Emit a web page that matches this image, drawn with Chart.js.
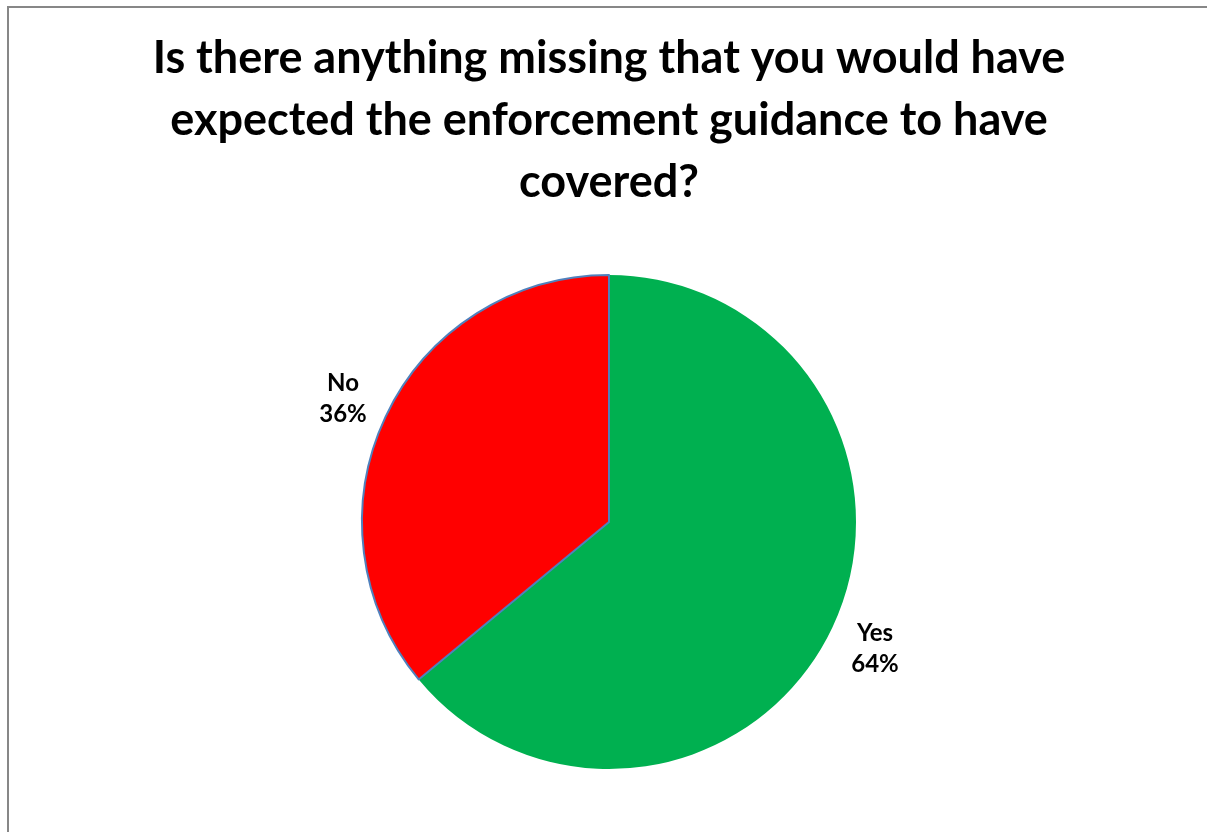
<!DOCTYPE html>
<html>
<head>
<meta charset="utf-8">
<script src="https://cdn.jsdelivr.net/npm/chart.js@4.4.1/dist/chart.umd.min.js"></script>
<style>
  html, body { margin: 0; padding: 0; background: #ffffff; }
  #wrap { width: 1207px; height: 832px; position: relative; }
</style>
</head>
<body>
<div id="wrap"><canvas id="pie"></canvas></div>
<script>
// Survey answers
const categories = ['Yes', 'No'];
const shares = [64, 36];
const sliceColors = ['#00b050', '#ff0000'];
const titleLines = [
  'Is there anything missing that you would have',
  'expected the enforcement guidance to have',
  'covered?'
];

const FONT = 'Lato, "Open Sans", sans-serif';

// Outer frame and the three-line heading
const framePlugin = {
  id: 'frame',
  beforeDraw(chart) {
    const ctx = chart.ctx;
    ctx.save();
    ctx.fillStyle = '#ffffff';
    ctx.fillRect(0, 0, chart.width, chart.height);
    ctx.strokeStyle = '#878787';
    ctx.lineWidth = 2;
    ctx.strokeRect(8, 7, chart.width + 20, chart.height + 20);

    ctx.font = 'bold 45px ' + FONT;
    ctx.fillStyle = '#000000';
    ctx.textAlign = 'center';
    ctx.textBaseline = 'middle';
    titleLines.forEach((line, i) => {
      ctx.fillText(line, 609, 58 + i * 62);
    });
    ctx.restore();
  }
};

// Category name and percentage outside each slice
const outsideLabels = {
  id: 'outsideLabels',
  afterDatasetsDraw(chart) {
    const ctx = chart.ctx;
    const meta = chart.getDatasetMeta(0);
    const total = shares.reduce((a, b) => a + b, 0);
    ctx.save();
    ctx.font = 'bold 24px ' + FONT;
    ctx.fillStyle = '#000000';
    ctx.textAlign = 'center';
    ctx.textBaseline = 'middle';
    meta.data.forEach((arc, i) => {
      const p = arc.getProps(['x', 'y', 'startAngle', 'endAngle', 'outerRadius'], true);
      const mid = (p.startAngle + p.endAngle) / 2;
      const d = p.outerRadius + 47;
      const cx = p.x + Math.cos(mid) * d;
      const cy = p.y + Math.sin(mid) * d + 2;
      const pct = Math.round(shares[i] / total * 100) + '%';
      ctx.fillText(categories[i], cx, cy - 15.5);
      ctx.fillText(pct, cx, cy + 15.5);
    });
    ctx.restore();
  }
};

new Chart(document.getElementById('pie'), {
  type: 'pie',
  data: {
    labels: categories,
    datasets: [{
      data: shares,
      backgroundColor: sliceColors,
      borderColor: ['rgba(0,0,0,0)', '#4f81bd'],
      borderWidth: [0, 2],
      borderJoinStyle: 'round'
    }]
  },
  options: {
    responsive: true,
    maintainAspectRatio: false,
    animation: false,
    rotation: 0,
    layout: { padding: { left: 361, right: 350, top: 274, bottom: 62 } },
    plugins: {
      legend: { display: false },
      tooltip: { enabled: false },
      title: { display: false }
    }
  },
  plugins: [framePlugin, outsideLabels]
});
</script>
</body>
</html>
